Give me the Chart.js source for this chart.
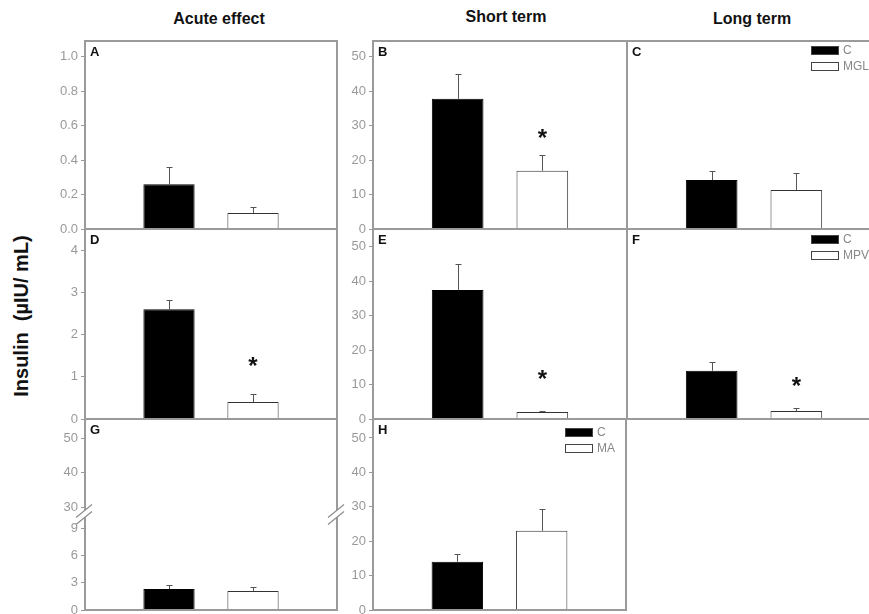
<!DOCTYPE html>
<html>
<head>
<meta charset="utf-8">
<script src="https://cdn.jsdelivr.net/npm/chart.js@4.4.0/dist/chart.umd.min.js"></script>
<style>
body{margin:0;width:869px;height:614px;overflow:hidden;background:#fff;position:relative;font-family:"Liberation Sans",Arial,sans-serif}
canvas{position:absolute}
.ttl{position:absolute;font-weight:bold;font-size:16px;color:#111;transform:translateX(-50%);white-space:nowrap}
#ylab{position:absolute;left:21px;top:316px;font-weight:bold;font-size:20px;color:#111;white-space:nowrap;transform:translate(-50%,-50%) rotate(-90deg)}
</style>
</head>
<body>
<div class="ttl" style="left:219px;top:10px">Acute effect</div>
<div class="ttl" style="left:506px;top:8px">Short term</div>
<div class="ttl" style="left:752px;top:10px">Long term</div>
<div id="ylab">Insulin&nbsp; (µIU/ mL)</div>

<script>
// panels A..H, treatment name of each row
var panels = ['A','B','C','D','E','F','G','H'];
var treatNames = ['MGL','MGL','MGL','MPV','MPV','MPV','MA','MA'];

// values (mean and +SE)
var ctrlMean  = [0.26, 37.8, 14.2, 2.6, 37.5, 14.0, 2.3, 14.0];
var ctrlErr   = [0.10, 7.2, 2.7, 0.22, 7.5, 2.6, 0.4, 2.3];
var treatMean = [0.093, 16.9, 11.3, 0.4, 2.0, 2.3, 2.1, 23.0];
var treatErr  = [0.037, 4.6, 5.0, 0.19, 0.3, 0.8, 0.4, 6.4];
// where the significance star sits (in axis units), null = no star
var starAt = [null, 27.5, null, 1.33, 12.8, 10.5, null, null];

// y axes
var yMax  = [1.09, 54.6, 54.6, 4.5, 55.2, 55.2, 10.5, 55.5];
var yStep = [0.2, 10, 10, 1, 10, 10, 3, 10];
var showTicks  = [true, true, false, true, true, false, true, true];
var showLegend = [false, false, true, false, false, true, false, true];
// G has a broken axis, this is the upper part
var gUpperMin = 28, gUpperMax = 55.5, gUpperStep = 10;

// frames on the page: left, top, right, bottom
var boxes = [
  [85,41,337,229],[373,41,627,229],[627,41,881,229],
  [85,229,337,419],[373,229,627,419],[627,229,881,419],
  [85,419,337,610],[373,419,626,610]
];
var legendDx = [0,0,70,0,0,70,0,61];
var legendDy = [0,0,5,0,0,6,0,9];

var AXW = 40, PAD = 12;
var tickFont = {family: '"Liberation Sans", Arial, sans-serif', size: 13};
var tickColor = '#999';

var deco = {
  id: 'deco',
  afterDatasetsDraw: function(chart) {
    var ctx = chart.ctx;
    ctx.save();
    ctx.strokeStyle = '#555';
    ctx.lineWidth = 1;
    chart.data.datasets.forEach(function(ds, i) {
      var meta = chart.getDatasetMeta(i);
      var ys = chart.scales[ds.yAxisID];
      meta.data.forEach(function(bar, j) {
        var v = ds.data[j], e = ds.errors[j];
        if (v == null || e == null) return;
        var x = Math.round(bar.x) + 0.5;
        var y0 = ys.getPixelForValue(v), y1 = Math.round(ys.getPixelForValue(v + e)) + 0.5;
        ctx.beginPath();
        ctx.moveTo(x, y0); ctx.lineTo(x, y1);
        ctx.moveTo(x - 3, y1); ctx.lineTo(x + 3, y1);
        ctx.stroke();
      });
    });
    ctx.restore();
  },
  afterDraw: function(chart) {
    var ctx = chart.ctx, a = chart.chartArea, k = chart.options.plugins.deco.idx;
    ctx.save();
    // frame
    ctx.strokeStyle = '#9a9a9a';
    ctx.lineWidth = 2;
    ctx.strokeRect(a.left, a.top, a.right - a.left, a.bottom - a.top);
    // axis break for G
    if (panels[k] == 'G') {
      var yb = chart.scales.y.top;
      [a.left, a.right].forEach(function(xb) {
        ctx.fillStyle = '#fff';
        ctx.beginPath();
        ctx.moveTo(xb - 9, yb + 3); ctx.lineTo(xb + 7, yb - 10);
        ctx.lineTo(xb + 7, yb - 3); ctx.lineTo(xb - 9, yb + 10);
        ctx.closePath(); ctx.fill();
        ctx.strokeStyle = '#8c8c8c'; ctx.lineWidth = 1.2;
        ctx.beginPath();
        ctx.moveTo(xb - 9, yb + 3); ctx.lineTo(xb + 7, yb - 10);
        ctx.moveTo(xb - 9, yb + 10); ctx.lineTo(xb + 7, yb - 3);
        ctx.stroke();
      });
    }
    // panel letter
    ctx.fillStyle = '#111';
    ctx.font = 'bold 13px "Liberation Sans", Arial, sans-serif';
    ctx.textBaseline = 'top';
    ctx.textAlign = 'left';
    ctx.fillText(panels[k], a.left + 5, a.top + 5);
    // star
    if (starAt[k] != null) {
      var bar = chart.getDatasetMeta(1).data[2];
      ctx.font = 'bold 24px "Liberation Sans", Arial, sans-serif';
      ctx.textAlign = 'center';
      ctx.textBaseline = 'middle';
      ctx.fillStyle = '#111';
      ctx.fillText('*', bar.x, chart.scales.y.getPixelForValue(starAt[k]) + 5);
    }
    // legend
    if (showLegend[k]) {
      var lx = a.right - legendDx[k], ly = a.top + legendDy[k];
      ctx.font = '12px "Liberation Sans", Arial, sans-serif';
      ctx.textAlign = 'left';
      ctx.textBaseline = 'middle';
      chart.data.datasets.forEach(function(ds, i) {
        var y = ly + i * 16;
        ctx.fillStyle = ds.backgroundColor;
        ctx.fillRect(lx, y, 28, 9);
        ctx.strokeStyle = '#444'; ctx.lineWidth = 1;
        ctx.strokeRect(lx + 0.5, y + 0.5, 27, 8);
        ctx.fillStyle = '#888';
        ctx.fillText(ds.label, lx + 32, y + 5);
      });
    }
    ctx.restore();
  }
};

function fixWidth(s) { s.width = AXW; }

function yScale(min, max, step, k, extra) {
  var s = {
    type: 'linear', position: 'left', min: min, max: max,
    afterFit: fixWidth,
    border: {display: false},
    grid: {drawOnChartArea: false, drawTicks: showTicks[k], tickLength: 4, color: tickColor},
    ticks: {
      display: showTicks[k], stepSize: step, includeBounds: false, autoSkip: false,
      font: tickFont, color: tickColor, padding: 3,
      callback: function(v) { return panels[k] == 'A' ? v.toFixed(1) : v; }
    }
  };
  for (var p in extra) s[p] = extra[p];
  return s;
}

panels.forEach(function(name, k) {
  var b = boxes[k];
  var cv = document.createElement('canvas');
  cv.width = (b[2] - b[0]) + AXW + PAD;
  cv.height = (b[3] - b[1]) + 2 * PAD;
  cv.style.left = (b[0] - AXW) + 'px';
  cv.style.top = (b[1] - PAD) + 'px';
  document.body.appendChild(cv);

  var scales = {
    x: {type: 'category', offset: false, display: false, grid: {display: false}}
  };
  if (name == 'G') {
    // lower part first so it ends up at the bottom of the stack
    scales.y = yScale(0, yMax[k], yStep[k], k, {stack: 'g', stackWeight: 1});
    scales.yTop = yScale(gUpperMin, gUpperMax, gUpperStep, k, {stack: 'g', stackWeight: 1});
  } else {
    scales.y = yScale(0, yMax[k], yStep[k], k, {});
  }

  new Chart(cv, {
    type: 'bar',
    data: {
      labels: ['', 'C', treatNames[k], ''],
      datasets: [
        {label: 'C', data: [null, ctrlMean[k], null, null], errors: [null, ctrlErr[k], null, null],
         backgroundColor: '#000', borderColor: '#000', borderWidth: 1, yAxisID: 'y'},
        {label: treatNames[k], data: [null, null, treatMean[k], null], errors: [null, null, treatErr[k], null],
         backgroundColor: '#fff', borderColor: '#333', borderWidth: 1, yAxisID: 'y'}
      ]
    },
    options: {
      responsive: false,
      animation: false,
      layout: {padding: {left: 0, right: PAD, top: PAD, bottom: PAD}},
      datasets: {bar: {grouped: false, categoryPercentage: 1, barPercentage: 0.61}},
      scales: scales,
      plugins: {legend: {display: false}, tooltip: {enabled: false}, deco: {idx: k}}
    },
    plugins: [deco]
  });
});
</script>
</body>
</html>
